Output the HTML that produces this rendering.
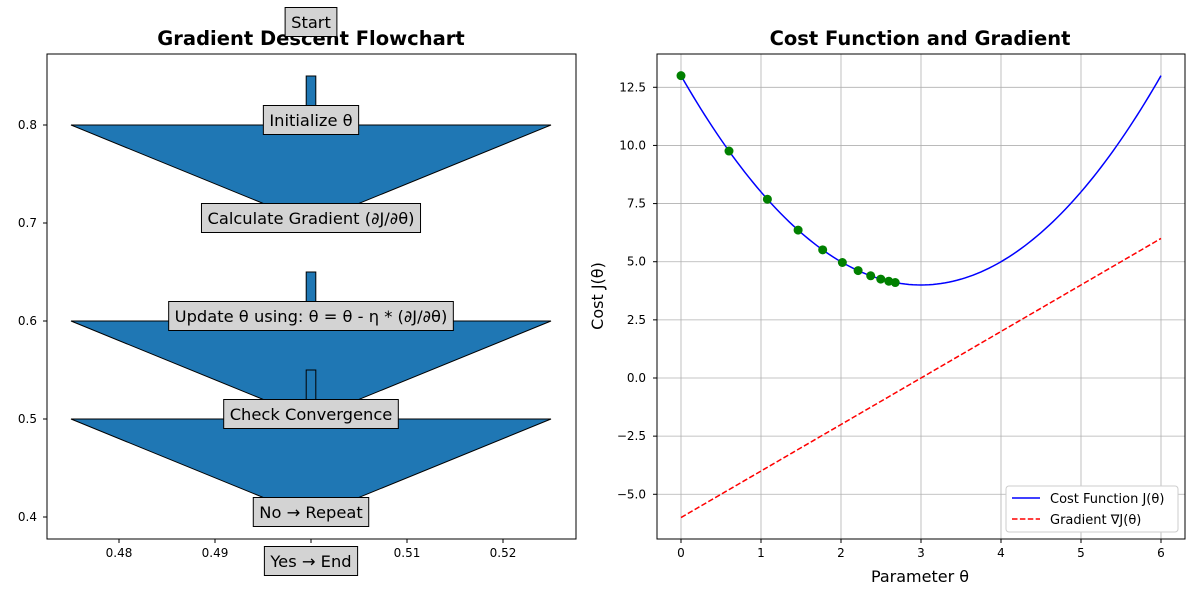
<!DOCTYPE html>
<html><head><meta charset="utf-8"><style>
body{margin:0;background:#fff;font-family:"Liberation Sans","DejaVu Sans",sans-serif}
text{font-family:"DejaVu Sans","Liberation Sans",sans-serif}
</style></head><body>
<svg id="c" width="1200" height="600" xmlns="http://www.w3.org/2000/svg"></svg>
<script>
const stepLabels=["Start","Initialize θ","Calculate Gradient (∂J/∂θ)","Update θ using: θ = θ - η * (∂J/∂θ)","Check Convergence","No → Repeat","Yes → End"];
const stepY=[0.9,0.8,0.7,0.6,0.5,0.4,0.35];
const arrowTop=[0.85,0.65,0.55];
const arrowBase=[0.8,0.6,0.5];
const arrowTip=[0.7,0.5,0.4];
const leftXTicks=[0.48,0.49,0.50,0.51,0.52];
const leftYTicks=[0.4,0.5,0.6,0.7,0.8];
const descentTheta=[0,0.6,1.08,1.464,1.771,2.017,2.214,2.371,2.497,2.597,2.678];
const rightXTicks=[0,1,2,3,4,5,6];
const rightYTicks=[-5,-2.5,0,2.5,5,7.5,10,12.5];
const rightYLabels=["−5.0","−2.5","0.0","2.5","5.0","7.5","10.0","12.5"];

const S=document.getElementById('c');const NS='http://www.w3.org/2000/svg';
function el(t,a,txt){const e=document.createElementNS(NS,t);for(const k in a)e.setAttribute(k,a[k]);if(txt!==undefined)e.textContent=txt;S.appendChild(e);return e;}
const lx=v=>119+(v-0.48)*9600, ly=v=>125-(v-0.8)*980;
const rx=v=>681+v*80, ry=v=>378-v*23.257;
const RL=657, RW=1185-657;

let e=el('rect',{x:47,y:54,width:529,height:485,fill:'#fff',stroke:'#000','stroke-width':1});

leftXTicks.forEach(t=>{const x=lx(t);el('line',{x1:x,x2:x,y1:539,y2:543,stroke:'#000'});
 e=el('text',{x:x,y:557,'font-size':12,'text-anchor':'middle'},t.toFixed(2));});
leftYTicks.forEach(t=>{const y=ly(t);el('line',{x1:43,x2:47,y1:y,y2:y,stroke:'#000'});
 e=el('text',{x:37,y:y+4,'font-size':12,'text-anchor':'end'},t.toFixed(1));});
e=el('text',{x:311,y:45,'font-size':19.5,'font-weight':'bold','text-anchor':'middle'},'Gradient Descent Flowchart');

arrowTop.forEach((t,i)=>{
 const pts=[[0.4995,t],[0.5005,t],[0.5005,arrowBase[i]],[0.525,arrowBase[i]],[0.5,arrowTip[i]],[0.475,arrowBase[i]],[0.4995,arrowBase[i]]].map(p=>lx(p[0])+','+ly(p[1])).join(' ');
 e=el('polygon',{points:pts,fill:'#1f77b4',stroke:'#000','stroke-width':1});
 
});
stepLabels.forEach((s,i)=>{
 const y=ly(stepY[i])-5;
 const t=el('text',{x:311,y:y+6,'font-size':16.3,'text-anchor':'middle'},s);
 
 const w=t.getComputedTextLength()+12;
 const r=el('rect',{x:311-w/2,y:y-14.5,width:w,height:29,fill:'#d3d3d3',stroke:'#000','stroke-width':1});
 
 S.insertBefore(r,t);
});

e=el('rect',{x:RL,y:54,width:RW,height:485,fill:'#fff',stroke:'#000','stroke-width':1});

rightXTicks.forEach(t=>{const x=rx(t);el('line',{x1:x,x2:x,y1:54,y2:539,stroke:'#b0b0b0','stroke-width':0.8});el('line',{x1:x,x2:x,y1:539,y2:543,stroke:'#000'});
 e=el('text',{x:x,y:557,'font-size':12,'text-anchor':'middle'},String(t));});
rightYTicks.forEach((t,i)=>{const y=ry(t);el('line',{x1:RL,x2:1185,y1:y,y2:y,stroke:'#b0b0b0','stroke-width':0.8});el('line',{x1:RL-4,x2:RL,y1:y,y2:y,stroke:'#000'});
 e=el('text',{x:646,y:y+4,'font-size':12,'text-anchor':'end'},rightYLabels[i]);});
let dc='',dg='';
for(let i=0;i<=120;i++){const th=i*0.05;dc+=(i?'L':'M')+rx(th)+','+ry((th-3)**2+4);dg+=(i?'L':'M')+rx(th)+','+ry(2*(th-3));}
e=el('path',{d:dc,fill:'none',stroke:'#0000ff','stroke-width':1.5});
e=el('path',{d:dg,fill:'none',stroke:'#ff0000','stroke-width':1.5,'stroke-dasharray':'5.5,2.4'});
descentTheta.forEach(th=>{e=el('circle',{cx:rx(th),cy:ry((th-3)**2+4),r:4.5,fill:'#008000'});});
el('rect',{x:RL,y:54,width:RW,height:485,fill:'none',stroke:'#000','stroke-width':1});
e=el('text',{x:920,y:45,'font-size':19.5,'font-weight':'bold','text-anchor':'middle'},'Cost Function and Gradient');
e=el('text',{x:920,y:582,'font-size':16,'text-anchor':'middle'},'Parameter θ');
e=el('text',{x:603,y:296,'font-size':16,'text-anchor':'middle',transform:'rotate(-90 603 296)'},'Cost J(θ)');
e=el('rect',{x:1006,y:486,width:172,height:46,fill:'#fff',stroke:'#ccc',rx:3});
el('line',{x1:1012,x2:1040,y1:498,y2:498,stroke:'#0000ff','stroke-width':1.5});
e=el('text',{x:1050,y:503,'font-size':13},'Cost Function J(θ)');
el('line',{x1:1012,x2:1040,y1:519,y2:519,stroke:'#ff0000','stroke-width':1.5,'stroke-dasharray':'5.5,2.4'});
e=el('text',{x:1050,y:524,'font-size':13},'Gradient ∇J(θ)');
</script>
</body></html>
